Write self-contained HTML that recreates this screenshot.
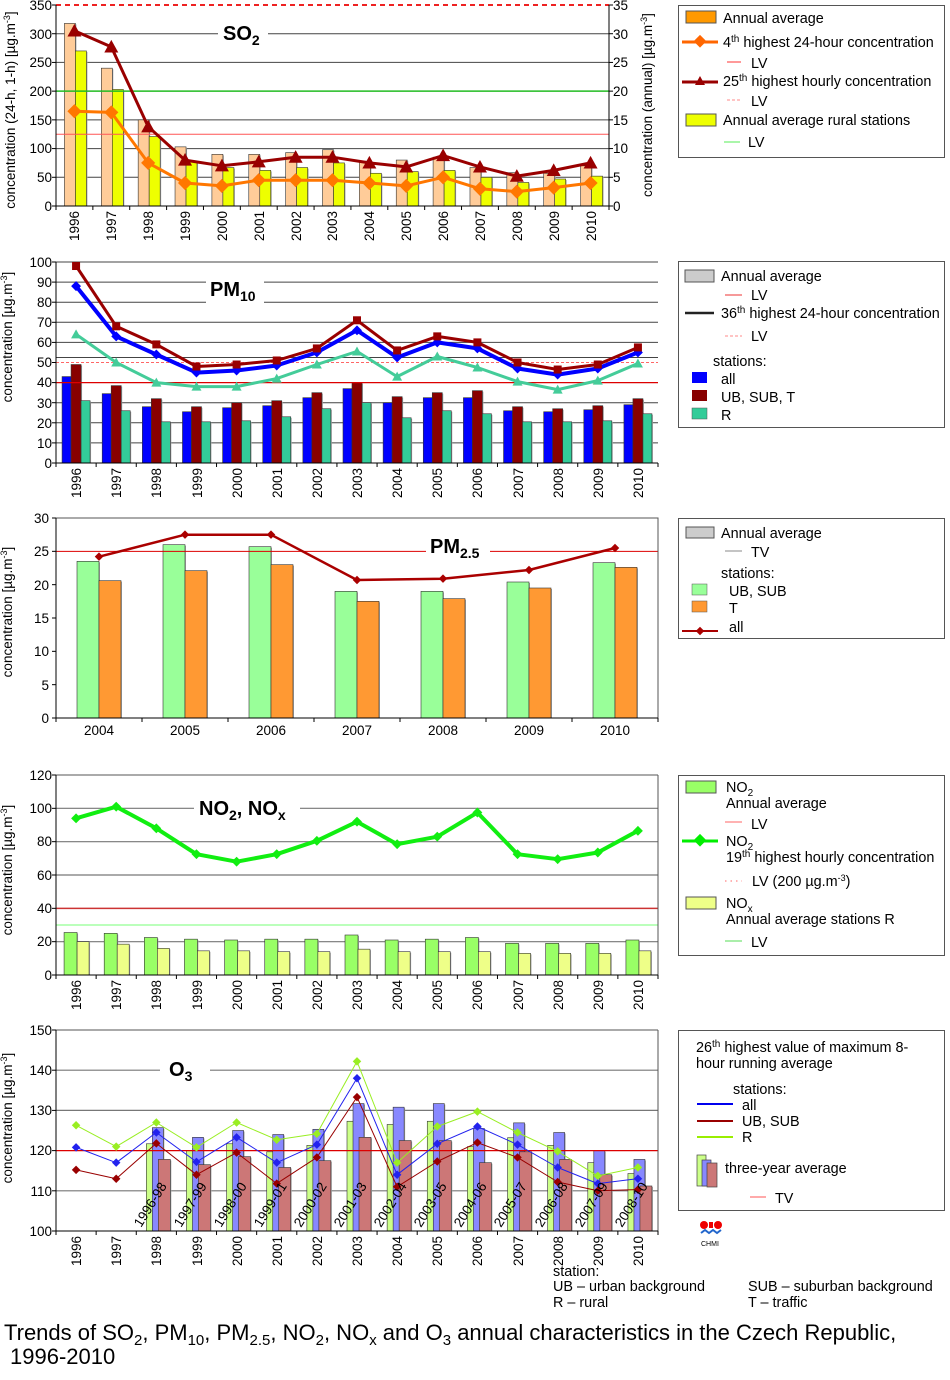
<!DOCTYPE html>
<html><head><meta charset="utf-8"><style>
body{margin:0;background:#fff;}
svg{display:block;font-family:"Liberation Sans",Arial,sans-serif;}
.t{font-size:13.5px;fill:#000}
.l{font-size:14.4px;fill:#000}
.ti{font-size:20px;font-weight:bold;fill:#000}
</style></head><body>
<svg id="s" width="950" height="1380" viewBox="0 0 950 1380" xmlns="http://www.w3.org/2000/svg">
<g id="g"></g>
<!-- SO2 labels -->
<g class="t" text-anchor="end">
<text x="52" y="10">350</text><text x="52" y="39">300</text><text x="52" y="67">250</text><text x="52" y="96">200</text><text x="52" y="125">150</text><text x="52" y="153">100</text><text x="52" y="182">50</text><text x="52" y="211">0</text>
</g>
<g class="t" text-anchor="start">
<text x="613" y="10">35</text><text x="613" y="39">30</text><text x="613" y="67">25</text><text x="613" y="96">20</text><text x="613" y="125">15</text><text x="613" y="153">10</text><text x="613" y="182">5</text><text x="613" y="211">0</text>
</g>
<g class="t" text-anchor="end">
<text transform="translate(79,211) rotate(-90)">1996</text><text transform="translate(116,211) rotate(-90)">1997</text><text transform="translate(153,211) rotate(-90)">1998</text><text transform="translate(190,211) rotate(-90)">1999</text><text transform="translate(227,211) rotate(-90)">2000</text><text transform="translate(264,211) rotate(-90)">2001</text><text transform="translate(301,211) rotate(-90)">2002</text><text transform="translate(337,211) rotate(-90)">2003</text><text transform="translate(374,211) rotate(-90)">2004</text><text transform="translate(411,211) rotate(-90)">2005</text><text transform="translate(448,211) rotate(-90)">2006</text><text transform="translate(485,211) rotate(-90)">2007</text><text transform="translate(522,211) rotate(-90)">2008</text><text transform="translate(559,211) rotate(-90)">2009</text><text transform="translate(596,211) rotate(-90)">2010</text>
</g>
<text class="t" text-anchor="middle" transform="translate(15,110) rotate(-90)">concentration (24-h, 1-h) [µg.m<tspan dy="-5" font-size="9">-3</tspan><tspan dy="5">]</tspan></text>
<text class="t" text-anchor="middle" transform="translate(652,105) rotate(-90)">concentration (annual) [µg.m<tspan dy="-5" font-size="9">-3</tspan><tspan dy="5">]</tspan></text>
<rect x="218" y="20" width="50" height="28" fill="#fff"/>
<text class="ti" x="223" y="40">SO<tspan dy="5" font-size="14">2</tspan></text>

<!-- PM10 labels -->
<g class="t" text-anchor="end">
<text x="52" y="267">100</text><text x="52" y="287">90</text><text x="52" y="307">80</text><text x="52" y="327">70</text><text x="52" y="347">60</text><text x="52" y="367">50</text><text x="52" y="387">40</text><text x="52" y="408">30</text><text x="52" y="428">20</text><text x="52" y="448">10</text><text x="52" y="468">0</text>
</g>
<g class="t" text-anchor="end">
<text transform="translate(81,468) rotate(-90)">1996</text><text transform="translate(121,468) rotate(-90)">1997</text><text transform="translate(161,468) rotate(-90)">1998</text><text transform="translate(202,468) rotate(-90)">1999</text><text transform="translate(242,468) rotate(-90)">2000</text><text transform="translate(282,468) rotate(-90)">2001</text><text transform="translate(322,468) rotate(-90)">2002</text><text transform="translate(362,468) rotate(-90)">2003</text><text transform="translate(402,468) rotate(-90)">2004</text><text transform="translate(442,468) rotate(-90)">2005</text><text transform="translate(482,468) rotate(-90)">2006</text><text transform="translate(523,468) rotate(-90)">2007</text><text transform="translate(563,468) rotate(-90)">2008</text><text transform="translate(603,468) rotate(-90)">2009</text><text transform="translate(643,468) rotate(-90)">2010</text>
</g>
<text class="t" text-anchor="middle" transform="translate(12,337) rotate(-90)">concentration [µg.m<tspan dy="-5" font-size="9">-3</tspan><tspan dy="5">]</tspan></text>
<rect x="206" y="274" width="58" height="30" fill="#fff"/>
<text class="ti" x="210" y="296">PM<tspan dy="5" font-size="14">10</tspan></text>

<!-- PM2.5 labels -->
<g class="t" text-anchor="end">
<text x="49" y="523">30</text><text x="49" y="556">25</text><text x="49" y="590">20</text><text x="49" y="623">15</text><text x="49" y="656">10</text><text x="49" y="690">5</text><text x="49" y="723">0</text>
</g>
<g class="t" text-anchor="middle">
<text x="99" y="735">2004</text><text x="185" y="735">2005</text><text x="271" y="735">2006</text><text x="357" y="735">2007</text><text x="443" y="735">2008</text><text x="529" y="735">2009</text><text x="615" y="735">2010</text>
</g>
<text class="t" text-anchor="middle" transform="translate(12,612) rotate(-90)">concentration [µg.m<tspan dy="-5" font-size="9">-3</tspan><tspan dy="5">]</tspan></text>
<rect x="426" y="533" width="64" height="28" fill="#fff"/>
<text class="ti" x="430" y="553">PM<tspan dy="5" font-size="14">2.5</tspan></text>

<!-- NO2 labels -->
<g class="t" text-anchor="end">
<text x="52" y="780">120</text><text x="52" y="813">100</text><text x="52" y="846">80</text><text x="52" y="880">60</text><text x="52" y="913">40</text><text x="52" y="946">20</text><text x="52" y="980">0</text>
</g>
<g class="t" text-anchor="end">
<text transform="translate(81,980) rotate(-90)">1996</text><text transform="translate(121,980) rotate(-90)">1997</text><text transform="translate(161,980) rotate(-90)">1998</text><text transform="translate(202,980) rotate(-90)">1999</text><text transform="translate(242,980) rotate(-90)">2000</text><text transform="translate(282,980) rotate(-90)">2001</text><text transform="translate(322,980) rotate(-90)">2002</text><text transform="translate(362,980) rotate(-90)">2003</text><text transform="translate(402,980) rotate(-90)">2004</text><text transform="translate(442,980) rotate(-90)">2005</text><text transform="translate(482,980) rotate(-90)">2006</text><text transform="translate(523,980) rotate(-90)">2007</text><text transform="translate(563,980) rotate(-90)">2008</text><text transform="translate(603,980) rotate(-90)">2009</text><text transform="translate(643,980) rotate(-90)">2010</text>
</g>
<text class="t" text-anchor="middle" transform="translate(12,870) rotate(-90)">concentration [µg.m<tspan dy="-5" font-size="9">-3</tspan><tspan dy="5">]</tspan></text>
<rect x="194" y="793" width="106" height="30" fill="#fff"/>
<text class="ti" x="199" y="815">NO<tspan dy="5" font-size="14">2</tspan><tspan dy="-5">, NO</tspan><tspan dy="5" font-size="14">x</tspan></text>

<!-- O3 labels -->
<g class="t" text-anchor="end">
<text x="52" y="1035">150</text><text x="52" y="1075">140</text><text x="52" y="1115">130</text><text x="52" y="1155">120</text><text x="52" y="1196">110</text><text x="52" y="1236">100</text>
</g>
<g class="t" text-anchor="end">
<text transform="translate(81,1236) rotate(-90)">1996</text><text transform="translate(121,1236) rotate(-90)">1997</text><text transform="translate(161,1236) rotate(-90)">1998</text><text transform="translate(202,1236) rotate(-90)">1999</text><text transform="translate(242,1236) rotate(-90)">2000</text><text transform="translate(282,1236) rotate(-90)">2001</text><text transform="translate(322,1236) rotate(-90)">2002</text><text transform="translate(362,1236) rotate(-90)">2003</text><text transform="translate(402,1236) rotate(-90)">2004</text><text transform="translate(442,1236) rotate(-90)">2005</text><text transform="translate(482,1236) rotate(-90)">2006</text><text transform="translate(523,1236) rotate(-90)">2007</text><text transform="translate(563,1236) rotate(-90)">2008</text><text transform="translate(603,1236) rotate(-90)">2009</text><text transform="translate(643,1236) rotate(-90)">2010</text>
</g>
<text class="t" text-anchor="middle" transform="translate(12,1118) rotate(-90)">concentration [µg.m<tspan dy="-5" font-size="9">-3</tspan><tspan dy="5">]</tspan></text>
<rect x="160" y="1054" width="50" height="30" fill="#fff"/>
<text class="ti" x="169" y="1076">O<tspan dy="5" font-size="14">3</tspan></text>

<!-- Legends -->
<g fill="none" stroke="#555" stroke-width="1">
<rect x="678.5" y="5.5" width="266" height="152"/>
<rect x="678.5" y="261.5" width="266" height="166"/>
<rect x="678.5" y="518.5" width="266" height="120"/>
<rect x="678.5" y="775.5" width="266" height="180"/>
<rect x="678.5" y="1030.5" width="266" height="180"/>
</g>
<g class="l">
<rect x="686" y="11" width="30" height="12" fill="#f90" stroke="#555"/>
<text x="723" y="23">Annual average</text>
<line x1="682" y1="42" x2="718" y2="42" stroke="#f60" stroke-width="3"/><rect x="695" y="37" width="9" height="9" fill="#f60" transform="rotate(45 700 42)"/>
<text x="723" y="47">4<tspan dy="-5" font-size="10">th</tspan><tspan dy="5"> highest 24-hour concentration</tspan></text>
<line x1="727" y1="62" x2="741" y2="62" stroke="#f33"/><text x="751" y="68">LV</text>
<line x1="682" y1="82" x2="718" y2="82" stroke="#900" stroke-width="3"/><path d="M700 76 L705 85 L695 85Z" fill="#900"/>
<text x="723" y="86">25<tspan dy="-5" font-size="10">th</tspan><tspan dy="5"> highest hourly concentration</tspan></text>
<line x1="727" y1="100" x2="741" y2="100" stroke="#f88" stroke-dasharray="3,2"/><text x="751" y="106">LV</text>
<rect x="686" y="114" width="30" height="12" fill="#ef0" stroke="#555"/>
<text x="723" y="125">Annual average rural stations</text>
<line x1="724" y1="142" x2="740" y2="142" stroke="#5e5"/><text x="748" y="147">LV</text>

<rect x="685" y="270" width="29" height="12" fill="#ccc" stroke="#555"/>
<text x="721" y="281">Annual average</text>
<line x1="725" y1="295" x2="742" y2="295" stroke="#e33"/><text x="751" y="300">LV</text>
<line x1="685" y1="313" x2="714" y2="313" stroke="#222" stroke-width="2.5"/>
<text x="721" y="318">36<tspan dy="-5" font-size="10">th</tspan><tspan dy="5"> highest 24-hour concentration</tspan></text>
<line x1="725" y1="336" x2="742" y2="336" stroke="#f88" stroke-dasharray="3,2"/><text x="751" y="341">LV</text>
<text x="713" y="366">stations:</text>
<rect x="692" y="372" width="15" height="11" fill="#00f"/><text x="721" y="384">all</text>
<rect x="692" y="390" width="15" height="11" fill="#800"/><text x="721" y="402">UB, SUB, T</text>
<rect x="692" y="408" width="15" height="11" fill="#3c9" stroke="#555" stroke-width=".5"/><text x="721" y="420">R</text>

<rect x="686" y="527" width="28" height="11" fill="#ccc" stroke="#555"/>
<text x="721" y="538">Annual average</text>
<line x1="725" y1="551" x2="742" y2="551" stroke="#888"/><text x="751" y="557">TV</text>
<text x="721" y="578">stations:</text>
<rect x="692" y="584" width="15" height="11" fill="#9f9" stroke="#555" stroke-width=".5"/><text x="729" y="596">UB, SUB</text>
<rect x="692" y="601" width="15" height="11" fill="#f93" stroke="#555" stroke-width=".5"/><text x="729" y="613">T</text>
<line x1="682" y1="631" x2="718" y2="631" stroke="#a00" stroke-width="2"/><rect x="697" y="628" width="6" height="6" fill="#a00" transform="rotate(45 700 631)"/><text x="729" y="632">all</text>

<rect x="686" y="781" width="30" height="12" fill="#9f6" stroke="#555"/>
<text x="726" y="792">NO<tspan dy="4" font-size="10">2</tspan></text>
<text x="726" y="808">Annual average</text>
<line x1="725" y1="822" x2="742" y2="822" stroke="#f66"/><text x="751" y="829">LV</text>
<line x1="682" y1="841" x2="718" y2="841" stroke="#0e0" stroke-width="3"/><rect x="695" y="836" width="9" height="9" fill="#0e0" transform="rotate(45 700 841)"/>
<text x="726" y="846">NO<tspan dy="4" font-size="10">2</tspan></text>
<text x="726" y="862">19<tspan dy="-5" font-size="10">th</tspan><tspan dy="5"> highest hourly concentration</tspan></text>
<line x1="725" y1="881" x2="742" y2="881" stroke="#f66" stroke-dasharray="1.5,4"/><text x="752" y="886">LV (200 µg.m<tspan dy="-5" font-size="9">-3</tspan><tspan dy="5">)</tspan></text>
<rect x="686" y="897" width="30" height="12" fill="#ef8" stroke="#555"/>
<text x="726" y="908">NO<tspan dy="4" font-size="10">x</tspan></text>
<text x="726" y="924">Annual average stations R</text>
<line x1="725" y1="941" x2="742" y2="941" stroke="#5d5"/><text x="751" y="947">LV</text>

<text x="696" y="1052">26<tspan dy="-5" font-size="10">th</tspan><tspan dy="5"> highest value of maximum 8-</tspan></text>
<text x="696" y="1068">hour running average</text>
<text x="733" y="1094">stations:</text>
<line x1="697" y1="1104" x2="733" y2="1104" stroke="#00e" stroke-width="2"/><text x="742" y="1110">all</text>
<line x1="697" y1="1121" x2="733" y2="1121" stroke="#900" stroke-width="2"/><text x="742" y="1126">UB, SUB</text>
<line x1="697" y1="1137" x2="733" y2="1137" stroke="#9e0" stroke-width="2"/><text x="742" y="1142">R</text>
<rect x="697" y="1155" width="9" height="31" fill="#cf8" stroke="#444" stroke-width=".7"/>
<rect x="702" y="1160" width="9" height="26" fill="#88f" stroke="#444" stroke-width=".7"/>
<rect x="707" y="1163" width="10" height="24" fill="#c77" stroke="#444" stroke-width=".7"/>
<text x="725" y="1173">three-year average</text>
<line x1="750" y1="1197" x2="766" y2="1197" stroke="#f55"/><text x="775" y="1203">TV</text>
</g>
<circle cx="704" cy="1225" r="4" fill="#e00"/><circle cx="718" cy="1225" r="4" fill="#e00"/><rect x="709" y="1222" width="4" height="6" fill="#e00"/>
<path d="M701 1233 l4 -3 l4 3 l4 -3 l4 3 l4 -3" stroke="#26c" stroke-width="2" fill="none"/>
<text x="701" y="1246" font-size="7">CHMI</text>

<g class="l">
<text x="553" y="1276">station:</text>
<text x="553" y="1291">UB – urban background</text>
<text x="553" y="1307">R – rural</text>
<text x="748" y="1291">SUB – suburban background</text>
<text x="748" y="1307">T – traffic</text>
</g>
<text x="4" y="1340" font-size="22">Trends of SO<tspan dy="5" font-size="15">2</tspan><tspan dy="-5">, PM</tspan><tspan dy="5" font-size="15">10</tspan><tspan dy="-5">, PM</tspan><tspan dy="5" font-size="15">2.5</tspan><tspan dy="-5">, NO</tspan><tspan dy="5" font-size="15">2</tspan><tspan dy="-5">, NO</tspan><tspan dy="5" font-size="15">x</tspan><tspan dy="-5"> and O</tspan><tspan dy="5" font-size="15">3</tspan><tspan dy="-5"> annual characteristics in the Czech Republic,</tspan></text>
<text x="10" y="1364" font-size="22">1996-2010</text>

<g class="t" font-size="13">
<text transform="translate(141,1228) rotate(-58)">1996-98</text>
<text transform="translate(181,1228) rotate(-58)">1997-99</text>
<text transform="translate(221,1228) rotate(-58)">1998-00</text>
<text transform="translate(261,1228) rotate(-58)">1999-01</text>
<text transform="translate(301,1228) rotate(-58)">2000-02</text>
<text transform="translate(341,1228) rotate(-58)">2001-03</text>
<text transform="translate(381,1228) rotate(-58)">2002-04</text>
<text transform="translate(421,1228) rotate(-58)">2003-05</text>
<text transform="translate(461,1228) rotate(-58)">2004-06</text>
<text transform="translate(501,1228) rotate(-58)">2005-07</text>
<text transform="translate(542,1228) rotate(-58)">2006-08</text>
<text transform="translate(582,1228) rotate(-58)">2007-09</text>
<text transform="translate(622,1228) rotate(-58)">2008-10</text>
</g>
</svg>
<script>
var NS="http://www.w3.org/2000/svg",G=document.getElementById("g");
function el(n,a){var e=document.createElementNS(NS,n);for(var k in a)e.setAttribute(k,a[k]);G.appendChild(e);return e;}
function C(x0,x1,yb,yt,mn,mx,n){return{x0:x0,x1:x1,n:n,c:function(i){return x0+(x1-x0)/n*(i+.5)},y:function(v){return yb-(v-mn)/(mx-mn)*(yb-yt)},yb:yb,yt:yt};}
function hl(c,v,col,w,da){el("line",{x1:c.x0,x2:c.x1,y1:c.y(v),y2:c.y(v),stroke:col,"stroke-width":w||1,"stroke-dasharray":da||"none"});}
function bars(c,d,off,w,col,st){d.forEach(function(v,i){if(v==null)return;var y=c.y(v);el("rect",{x:c.c(i)+off+1,y:y+1,width:w,height:c.yb-y-1,fill:"#aaa"});el("rect",{x:c.c(i)+off,y:y,width:w,height:c.yb-y,fill:col,stroke:st||"#333","stroke-width":.6});});}
function line(c,d,col,w,mk,ms,start){var p=[];d.forEach(function(v,i){p.push((c.c(i+(start||0))).toFixed(1)+","+c.y(v).toFixed(1));});el("polyline",{points:p.join(" "),fill:"none",stroke:col,"stroke-width":w,"stroke-linejoin":"round"});
 d.forEach(function(v,i){var x=c.c(i+(start||0)),y=c.y(v);if(mk=="d")el("rect",{x:x-ms,y:y-ms,width:2*ms,height:2*ms,fill:col,transform:"rotate(45 "+x+" "+y+")"});else if(mk=="s")el("rect",{x:x-ms,y:y-ms,width:2*ms,height:2*ms,fill:col});else if(mk=="t")el("path",{d:"M"+x+" "+(y-ms)+" L"+(x+ms)+" "+(y+ms*.8)+" L"+(x-ms)+" "+(y+ms*.8)+"Z",fill:col});});}
function axes(c,ticks,right){el("line",{x1:c.x0,x2:c.x0,y1:c.yt,y2:c.yb,stroke:"#000"});el("line",{x1:c.x0,x2:c.x1,y1:c.yb,y2:c.yb,stroke:"#000"});
 ticks.forEach(function(v){el("line",{x1:c.x0-4,x2:c.x0,y1:c.y(v),y2:c.y(v),stroke:"#000"});if(right)el("line",{x1:c.x1,x2:c.x1+4,y1:c.y(v),y2:c.y(v),stroke:"#000"});});
 for(var i=0;i<=c.n;i++){var x=c.x0+(c.x1-c.x0)/c.n*i;el("line",{x1:x,x2:x,y1:c.yb,y2:c.yb+4,stroke:"#000"});}
 if(right)el("line",{x1:c.x1,x2:c.x1,y1:c.yt,y2:c.yb,stroke:"#000"});}

var a=C(56,609,206,5,0,350,15);
[50,100,150,250,300].forEach(function(v){hl(a,v,"#444",1)});
bars(a,[318,240,150,103,90,90,93,98,78,80,85,67,58,57,70],-10,11,"#fc9");
bars(a,[270,203,121,77,67,62,67,75,57,60,62,50,41,47,52],1,11,"#ef0");
hl(a,200,"#2b2",1.5);hl(a,125,"#f55",1);hl(a,350,"#e22",2,"5,4");
line(a,[165,163,75,40,35,45,45,45,40,35,50,30,25,32,40],"#f70",3,"d",5);
line(a,[305,277,138,80,70,77,85,85,75,68,88,68,52,62,75],"#900",3,"t",7);
axes(a,[0,50,100,150,200,250,300,350],true);

var b=C(56,658,463,262,0,100,15);
for(var v=10;v<=100;v+=10)if(v!=40&&v!=50)hl(b,v,"#444",1);
hl(b,52.5,"#444",1);
bars(b,[43,34.5,28,25.5,27.5,28.5,32.5,37,30,32.5,32.5,26,25.5,26.5,29],-14,9,"#00f");
bars(b,[49,38.5,32,28,30,31,35,40,33,35,36,28,27,28.5,32],-5,10,"#800");
bars(b,[31,26,20.5,20.5,21,23,27,30,22.5,26,24.5,20.5,20.5,21,24.5],5,9,"#3c9");
hl(b,40,"#d00",1.2);hl(b,50,"#f66",1,"3,2");
line(b,[64,50,40,38,38,42,49,55.5,43,53,47.5,40.5,36.5,41,49.5],"#4c9",3,"t",5);
line(b,[88,63,54,45,46,48.5,55,66,52.5,60,57,47,44,47,55],"#00f",4,"d",3.5);
line(b,[98,68,59,48,49,51,57,71,56,63,60,50,46.5,49,57.5],"#900",3,"s",4);
axes(b,[0,10,20,30,40,50,60,70,80,90,100]);

var p=C(56,658,718,518,0,30,7);
bars(p,[23.5,26,25.7,19,19,20.4,23.3],-22,22,"#9f9");
bars(p,[20.6,22.1,23,17.5,17.9,19.5,22.6],0,22,"#f93");
hl(p,25,"#d00",1);
line(p,[24.2,27.5,27.5,20.7,20.9,22.2,25.5],"#a00",2.5,"d",3);
el("rect",{x:56,y:518,width:602,height:200,fill:"none",stroke:"#555"});
axes(p,[0,5,10,15,20,25,30]);

var n=C(56,658,975,775,0,120,15);
[20,60,80,100,120].forEach(function(v){hl(n,v,"#777",1.2)});
bars(n,[25.5,25,22.5,21.5,21,21.5,21.5,24,21,21.5,22.5,19,19,19,21],-12,13,"#9f6");
bars(n,[20,18.5,16,14.5,14.5,14,14,15.5,14,14,14,13,13,13,14.5],1,12,"#ef8");
hl(n,40,"#c33",1.5);hl(n,30,"#7f7",1);
line(n,[94,101,88,72.5,68,72.5,80.5,92,78.5,83,97.5,72.5,69.5,73.5,86.5],"#1e1",4,"d",3.5);
el("line",{x1:658,x2:658,y1:775,y2:975,stroke:"#555"});
axes(n,[0,20,40,60,80,100,120]);

var o=C(56,658,1231,1030,100,150,15);
[110,130,140,150].forEach(function(v){hl(o,v,"#777",1.2)});
var gr=[121.7,120,121.7,119.7,121.3,127.3,126.5,127.3,121,123.2,121.3,117,114.3],
bl=[125.7,123.3,125,124,125.3,131.7,130.8,131.7,125.5,126.9,124.5,120,117.8],
pk=[117.8,116.5,118.5,115.8,117.5,123.3,122.5,122.5,117,119.7,117.8,114,111.2];
var pad=function(d){return [null,null].concat(d)};
bars(o,pad(gr),-10,9,"#cf8");bars(o,pad(bl),-4,11,"#88f");bars(o,pad(pk),2,12,"#c77");
hl(o,120,"#d00",1.2);
line(o,[126.3,121,127,120.8,127,122.7,124.2,142.2,117,126,129.7,124.5,119.8,113.7,115.8],"#9e2",1,"d",3);
line(o,[120.8,117,124.5,117.2,123.3,117,121.5,138,114,121.7,126,121.5,115.8,111.8,113],"#22e",1,"d",3);
line(o,[115.2,113,121.8,114,119.5,111.8,118.3,133.3,111,117.3,122,118.3,112.2,110,110.3],"#900",1,"d",3);
el("line",{x1:658,x2:658,y1:1030,y2:1231,stroke:"#555"});
axes(o,[100,110,120,130,140,150]);
</script>
</body></html>
